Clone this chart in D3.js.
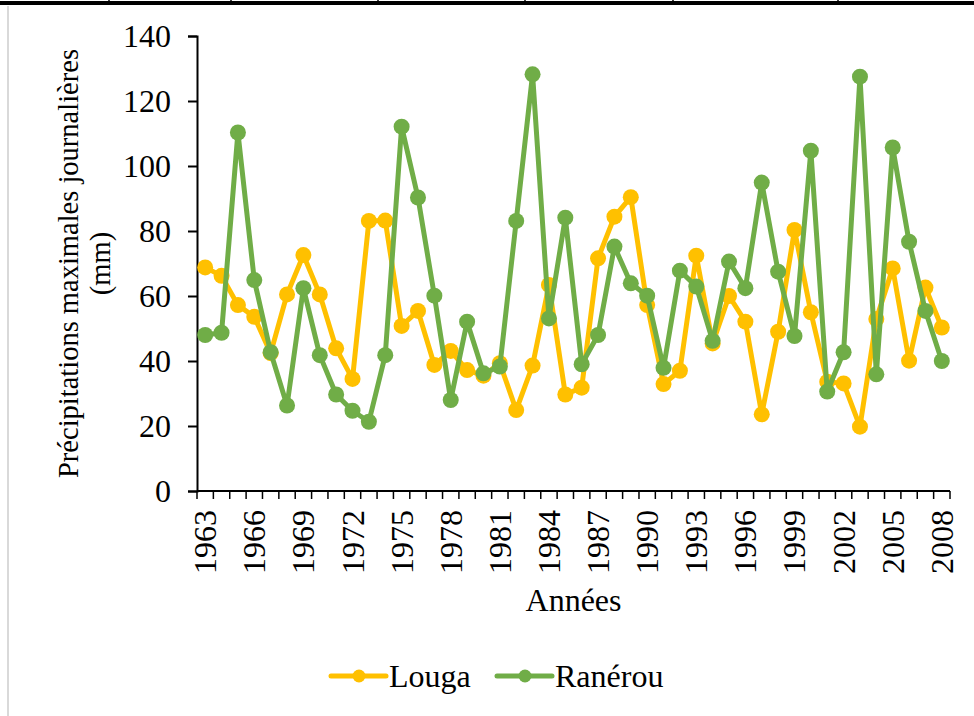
<!DOCTYPE html>
<html>
<head>
<meta charset="utf-8">
<script src="https://cdn.jsdelivr.net/npm/d3@7"></script>
<style>
  body { margin: 0; background: #fff; }
  svg { display: block; font-family: "Liberation Serif", "Times New Roman", serif; }
  text { font-family: "Liberation Serif", "Times New Roman", serif; fill: #000; }
</style>
</head>
<body>
<div class="canvas"></div>
<script>
// data
const years = d3.range(1963, 2009);
const louga = [68.8, 66.2, 57.2, 53.6, 42.4, 60.5, 72.6, 60.5, 43.9, 34.5,
  83.1, 83.2, 50.8, 55.4, 38.8, 43.1, 37.2, 35.5, 39.3, 24.9,
  38.6, 63.4, 29.7, 31.8, 71.6, 84.4, 90.4, 57.2, 32.9, 37.0,
  72.4, 45.4, 60.0, 52.1, 23.6, 49.0, 80.3, 55.0, 33.6, 33.1,
  19.8, 52.9, 68.5, 40.1, 62.6, 50.3];
const ranerou = [48.0, 48.7, 110.3, 64.9, 42.7, 26.3, 62.4, 41.8, 29.7, 24.7,
  21.3, 41.8, 112.1, 90.3, 60.1, 28.0, 52.1, 36.2, 38.3, 83.1,
  128.2, 53.1, 84.1, 39.0, 48.0, 75.2, 63.9, 60.1, 37.9, 67.8,
  62.9, 46.2, 70.6, 62.4, 94.9, 67.5, 47.7, 104.7, 30.6, 42.7,
  127.5, 35.9, 105.7, 76.7, 55.4, 40.0];
const yTicks = [0, 20, 40, 60, 80, 100, 120, 140];
const yearLabels = d3.range(1963, 2009, 3);
const seriesNames = ["Louga", "Ranérou"];
const seriesColors = ["#FFC000", "#70AD47"];

// dimensions
const w = 974;
const h = 716;
const margin = { top: 36, right: 24, bottom: 225, left: 197 };
const graphWidth = w - margin.left - margin.right;
const graphHeight = h - margin.top - margin.bottom;

const svg = d3.select(".canvas").append("svg").attr("width", w).attr("height", h);

// page decorations: table border on top, grey frame at left
svg.append("line").attr("x1", 0).attr("x2", w).attr("y1", 3).attr("y2", 3)
  .attr("stroke", "#000").attr("stroke-width", 4);
[109, 231, 378, 525, 673, 838].forEach((x) => {
  svg.append("line").attr("x1", x).attr("x2", x).attr("y1", 0).attr("y2", 5)
    .attr("stroke", "#000").attr("stroke-width", 1.5);
});
svg.append("line").attr("x1", 8).attr("x2", 8).attr("y1", 6).attr("y2", h)
  .attr("stroke", "#d9d9d9").attr("stroke-width", 2);

const graph = svg.append("g").attr("transform", `translate(${margin.left}, ${margin.top})`);

// scales
const xScale = d3.scaleBand().domain(years).range([0, graphWidth]);
const yScale = d3.scaleLinear().domain([0, 140]).range([graphHeight, 0]);
const cx = (d) => xScale(d) + xScale.bandwidth() / 2;

// y axis
const yAxis = d3.axisLeft(yScale).tickValues(yTicks).tickSize(9).tickPadding(17);
const gy = graph.append("g").call(yAxis);
gy.attr("font-family", null).attr("font-size", null);
gy.select(".domain").attr("stroke", "#000").attr("stroke-width", 2);
gy.selectAll(".tick line").attr("stroke", "#000").attr("stroke-width", 2);
gy.selectAll(".tick text").attr("font-size", 32).attr("dy", "0.34em");

// x axis: ticks between categories
const gx = graph.append("g").attr("transform", `translate(0, ${graphHeight})`);
gx.append("line").attr("x1", 0).attr("x2", graphWidth).attr("stroke", "#000").attr("stroke-width", 2);
gx.selectAll("line.tk")
  .data(d3.range(years.length + 1))
  .enter()
  .append("line")
  .attr("class", "tk")
  .attr("x1", (i) => i * xScale.step())
  .attr("x2", (i) => i * xScale.step())
  .attr("y1", 0)
  .attr("y2", 8)
  .attr("stroke", "#000")
  .attr("stroke-width", 1.5);
gx.selectAll("text")
  .data(yearLabels)
  .enter()
  .append("text")
  .attr("transform", (d) => `translate(${cx(d) + 11}, 19) rotate(-90)`)
  .attr("text-anchor", "end")
  .attr("font-size", 32)
  .text((d) => d);

// axis titles
svg.append("text")
  .attr("x", margin.left + graphWidth / 2)
  .attr("y", 611)
  .attr("text-anchor", "middle")
  .attr("font-size", 32)
  .text("Années");

const yTitle = svg.append("text")
  .attr("transform", `translate(78, ${margin.top + graphHeight / 2}) rotate(-90)`)
  .attr("text-anchor", "middle")
  .attr("font-size", 28.5);
yTitle.append("tspan").attr("x", 0).attr("y", 0).text("Précipitations maximales journalières");
yTitle.append("tspan").attr("x", 0).attr("y", 32).text("(mm)");

// lines and markers
const line = d3.line().x((d, i) => cx(years[i])).y((d) => yScale(d));
[louga, ranerou].forEach((values, k) => {
  graph.append("path")
    .datum(values)
    .attr("d", line)
    .attr("fill", "none")
    .attr("stroke", seriesColors[k])
    .attr("stroke-width", 5)
    .attr("stroke-linejoin", "round");
  graph.append("g")
    .selectAll("circle")
    .data(values)
    .enter()
    .append("circle")
    .attr("cx", (d, i) => cx(years[i]))
    .attr("cy", (d) => yScale(d))
    .attr("r", 8)
    .attr("fill", seriesColors[k]);
});

// legend
const legend = svg.append("g").attr("transform", "translate(331, 676)");
const legendX = [0, 166];
seriesNames.forEach((name, k) => {
  const item = legend.append("g").attr("transform", `translate(${legendX[k]}, 0)`);
  item.append("line").attr("x1", 0).attr("x2", 55).attr("stroke", seriesColors[k])
    .attr("stroke-width", 5).attr("stroke-linecap", "round");
  item.append("circle").attr("cx", 28).attr("r", 6.5).attr("fill", seriesColors[k]);
  item.append("text").attr("x", 58).attr("y", 11).attr("font-size", 32).text(name);
});
</script>
</body>
</html>
